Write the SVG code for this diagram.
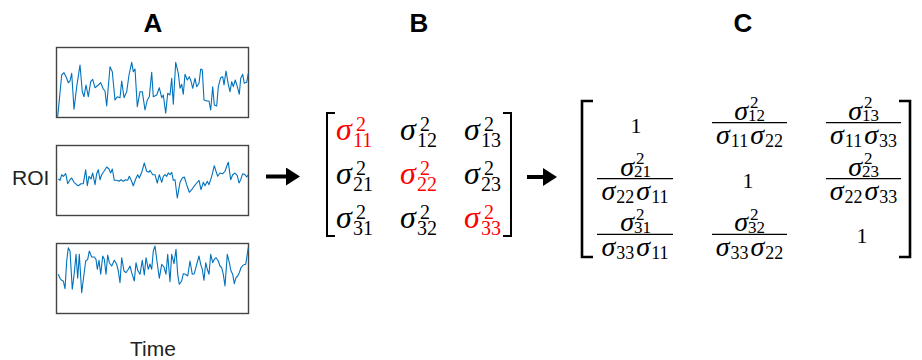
<svg xmlns="http://www.w3.org/2000/svg" width="922" height="360" viewBox="0 0 922 360">
<defs>
<style>
.lbl{font-family:"Liberation Sans",Arial,sans-serif;font-weight:bold;font-size:26px;fill:#000;text-anchor:middle}
.ax{font-family:"Liberation Sans",Arial,sans-serif;font-size:21px;fill:#222}
.box{fill:#fff;stroke:#444;stroke-width:1.4}
.tr{fill:none;stroke:#0072BD;stroke-width:1.1;stroke-linejoin:round}
.m{font-family:"Liberation Serif","DejaVu Serif",serif;font-style:italic;fill:#000}
.s{font-family:"Liberation Serif","DejaVu Serif",serif;fill:#000}
.r{fill:#FF0000}
.br{fill:none;stroke:#000;stroke-width:2}
.br2{fill:none;stroke:#000;stroke-width:2.6}
.bar{stroke:#000;stroke-width:1.2}
.arr{stroke:#000;stroke-width:4;fill:none}
</style>
<marker id="ah" viewBox="0 0 14 18" refX="1" refY="9" markerWidth="14" markerHeight="18" markerUnits="userSpaceOnUse" orient="auto">
<path d="M0,0 L14,9 L0,18 z" fill="#000"/>
</marker>
</defs>
<rect width="922" height="360" fill="#fff"/>

<g id="panelA">
<text class="lbl" x="153" y="32">A</text>
<text class="ax" x="12" y="185">ROI</text>
<text class="ax" x="130" y="356">Time</text>
<g id="trace1">
<rect class="box" x="56.5" y="47.5" width="192" height="70"/>
<polyline class="tr" points="57.7,116.7 61.7,75 64,72.7 66.7,78.3 68.3,82.7 70,81 71.7,73.3 74,109.3 76.7,86.7 80,65 82.3,91.7 84,96.7 86,85 88.3,96.7 90.7,81.7 92.7,79.3 95,87.7 98.3,85 100.7,82.7 103.3,89 105,91 106.7,106 110,66.7 112.3,71.7 115,100 117.3,96.7 120,97.7 121.7,81 124,97.7 126.7,91.7 129,75 131.7,62.3 133.3,71.7 135,69 137.3,106.7 140,91.7 142.3,91.7 145,110 147.3,100 149.3,96.7 151.7,72.3 153.3,96.7 156.7,95 159.3,87.7 161.7,97.7 163.3,95 165.7,113.3 167.7,93.3 170,95 171.7,78.3 173.3,104.3 175.7,62.3 178.3,73.3 180,88.3 181.7,84.3 183.3,94.3 185,74.3 187.3,80 189.3,76.7 191,81 192.7,88.3 195,78.3 196.7,86.7 199,83.3 200.7,69 202.3,70 204,100 206.7,101 209,101 210.7,110 212.7,86.7 214.3,105 216.7,106 218.3,86.7 220.7,77.7 222.7,76.7 224,85 226,71 228.3,84.3 230,91.7 231.7,81.7 233.3,86.7 235.3,80 237.3,86.7 239.3,94.3 240.7,78.3 242.7,74.3 244.3,83.3 246.7,82.3 248.3,73.3"/>
</g>
<g id="trace2">
<rect class="box" x="56.5" y="145.5" width="192" height="70"/>
<polyline class="tr" points="58.3,179 60,180.3 61.7,174.7 63.3,176.3 65.7,173.7 67.7,183.7 70,179.7 71.7,178 74,182.3 76.7,184.7 78.3,185.7 81,183.7 83.3,183.7 85.7,169.7 87.3,185.7 89,176.3 91,179 92.7,173 95,184.7 96.7,173.7 98.3,169.7 100,179.7 101.7,174.7 104,171.3 106.7,167 109,169 110.7,173 112.3,169 114.3,180.3 116.7,180.3 119,181.3 121,179.7 123.3,181.3 125.7,179.7 127.7,180.3 129.3,176.3 131,179.7 133.3,185.7 135.7,179 137.7,174.7 139.3,178 141.7,172.3 144.3,163 146.7,171.3 149,172.3 150,170.3 152.7,174.7 155,174.7 157.3,183 159.3,174.7 161.7,182.3 163.3,176.3 165,174.7 166.7,176.3 168.3,173 170,174.7 171.7,172.3 173.3,180.3 175,179.7 177.3,198 180,182.3 182.3,178 184.3,177 186.7,184.7 189.3,192.3 191.7,189.7 194,186.3 196.7,183 199,180.3 201,189.7 203.3,182.3 205,185.7 207.3,181.3 209,184.7 211.7,176.3 214.3,165.7 216,171.3 217.7,176.3 220,173 222.7,173.7 225,171.3 226.7,166.3 228.3,162.3 230.7,179.7 232.7,174.7 235,173 237.3,175.7 239,183 240.7,179.7 242.7,173.7 245,174.7 246.7,177 248.3,174.7"/>
</g>
<g id="trace3">
<rect class="box" x="56.5" y="243.5" width="192" height="70"/>
<polyline class="tr" points="58.3,274.3 60,278.3 61.7,280.3 63.3,281 65,288.7 66.7,261 68.3,247.7 70,251 72.3,289.3 74.3,272.7 76,254.3 77.7,278.3 79.3,254.3 81.7,292.7 84,274.3 85.7,261 87.7,259.3 89.3,251 91.7,257 94.3,257 96,259.3 97.3,269.3 99,260.3 100.7,274.3 102.7,256 104.3,259.3 106,274.3 107.7,255 109.3,262.7 111.7,266 114.3,260.3 116.7,264.3 118.3,271 120,282.7 121.7,257.7 124,271 126,272.7 128.3,269.3 130,266 131.7,272.7 134.3,281 136,262.7 137.7,270.3 140,274.3 142.3,260.3 144.3,275 146,257.7 148.3,269.3 150,264 151.7,269.3 153.3,251 155,246 157.3,263.7 159.3,278.3 161.7,264.3 164,267 166,274.3 167.7,254.3 170,281.7 171.7,254.3 174,263.7 176,249.3 177.7,274.3 179.3,284.3 181.7,281 183.3,273.7 185.7,274.3 187.7,276 190,261 192.3,274.3 194.3,273.7 196.7,264.3 199,256 200.7,264.3 202.3,269.3 204,280.3 205.7,262.7 207.3,269.3 209,274.3 210.7,254.3 212.7,262.7 214.3,259.3 216,257.7 218.3,261 220,266 221.7,267.7 223.3,274.3 225,286 227.3,254.3 229.3,262.7 231,271 232.7,274.3 234.3,283.7 236,277.7 237.7,276 239.3,272.7 241,267.7 243.3,265 245.7,264.3 248.3,247.7"/>
</g>
</g>

<g id="connectors">
<line class="arr" x1="266" y1="176.5" x2="287" y2="176.5" marker-end="url(#ah)"/>
<line class="arr" x1="527" y1="177" x2="544" y2="177" marker-end="url(#ah)"/>
</g>

<g id="panelB">
<text class="lbl" x="419" y="32">B</text>
<path class="br" d="M335,113 H327 V236 H335"/>
<path class="br" d="M503,113 H511 V236 H503"/>
<g font-size="32">
<text class="m r" x="336" y="140">σ</text>
<text class="m" x="400" y="140">σ</text>
<text class="m" x="464" y="140">σ</text>
<text class="m" x="336" y="184">σ</text>
<text class="m r" x="400" y="184">σ</text>
<text class="m" x="464" y="184">σ</text>
<text class="m" x="336" y="228">σ</text>
<text class="m" x="400" y="228">σ</text>
<text class="m r" x="464" y="228">σ</text>
</g>
<g font-size="20">
<text class="s r" x="356" y="131">2</text><text class="s r" x="353" y="147">11</text>
<text class="s" x="420" y="131">2</text><text class="s" x="417" y="147">12</text>
<text class="s" x="484" y="131">2</text><text class="s" x="481" y="147">13</text>
<text class="s" x="356" y="175">2</text><text class="s" x="353" y="191">21</text>
<text class="s r" x="420" y="175">2</text><text class="s r" x="417" y="191">22</text>
<text class="s" x="484" y="175">2</text><text class="s" x="481" y="191">23</text>
<text class="s" x="356" y="219">2</text><text class="s" x="353" y="235">31</text>
<text class="s" x="420" y="219">2</text><text class="s" x="417" y="235">32</text>
<text class="s r" x="484" y="219">2</text><text class="s r" x="481" y="235">33</text>
</g>
</g>

<g id="panelC">
<text class="lbl" x="743" y="32">C</text>
<path class="br2" d="M593,101 H582 V257 H593"/>
<path class="br2" d="M899,101 H910 V257 H899"/>
<g class="s" font-size="22" text-anchor="middle">
<text x="636" y="133">1</text>
<text x="748" y="188">1</text>
<text x="862" y="243">1</text>
</g>
<g class="bars">
<line class="bar" x1="712" y1="122.7" x2="787" y2="122.7"/>
<line class="bar" x1="826" y1="122.7" x2="901" y2="122.7"/>
<line class="bar" x1="597" y1="178.7" x2="673" y2="178.7"/>
<line class="bar" x1="826" y1="178.7" x2="901" y2="178.7"/>
<line class="bar" x1="597" y1="234.3" x2="673" y2="234.3"/>
<line class="bar" x1="712" y1="234.3" x2="787" y2="234.3"/>
</g>
<g class="m" font-size="28" text-anchor="end">
<text x="748" y="119.5">σ</text>
<text x="862" y="119.5">σ</text>
<text x="634" y="175.5">σ</text>
<text x="862" y="175.5">σ</text>
<text x="634" y="231">σ</text>
<text x="748" y="231">σ</text>
</g>
<g class="s" font-size="17">
<text x="750" y="108">2</text><text x="748" y="121">12</text>
<text x="864" y="108">2</text><text x="862" y="121">13</text>
<text x="636" y="164">2</text><text x="634" y="177">21</text>
<text x="864" y="164">2</text><text x="862" y="177">23</text>
<text x="636" y="219.6">2</text><text x="634" y="232.6">31</text>
<text x="750" y="219.6">2</text><text x="748" y="232.6">32</text>
</g>
<g class="m" font-size="28" text-anchor="middle">
<text x="749.5" y="144">σ<tspan class="s" font-style="normal" font-size="18" dx="1" dy="3">11</tspan><tspan dx="2" dy="-3">σ</tspan><tspan class="s" font-style="normal" font-size="18" dx="1" dy="3">22</tspan></text>
<text x="863.5" y="144">σ<tspan class="s" font-style="normal" font-size="18" dx="1" dy="3">11</tspan><tspan dx="2" dy="-3">σ</tspan><tspan class="s" font-style="normal" font-size="18" dx="1" dy="3">33</tspan></text>
<text x="635" y="200">σ<tspan class="s" font-style="normal" font-size="18" dx="1" dy="3">22</tspan><tspan dx="2" dy="-3">σ</tspan><tspan class="s" font-style="normal" font-size="18" dx="1" dy="3">11</tspan></text>
<text x="863.5" y="200">σ<tspan class="s" font-style="normal" font-size="18" dx="1" dy="3">22</tspan><tspan dx="2" dy="-3">σ</tspan><tspan class="s" font-style="normal" font-size="18" dx="1" dy="3">33</tspan></text>
<text x="635" y="255.6">σ<tspan class="s" font-style="normal" font-size="18" dx="1" dy="3">33</tspan><tspan dx="2" dy="-3">σ</tspan><tspan class="s" font-style="normal" font-size="18" dx="1" dy="3">11</tspan></text>
<text x="749.5" y="255.6">σ<tspan class="s" font-style="normal" font-size="18" dx="1" dy="3">33</tspan><tspan dx="2" dy="-3">σ</tspan><tspan class="s" font-style="normal" font-size="18" dx="1" dy="3">22</tspan></text>
</g>
</g>
</svg>
